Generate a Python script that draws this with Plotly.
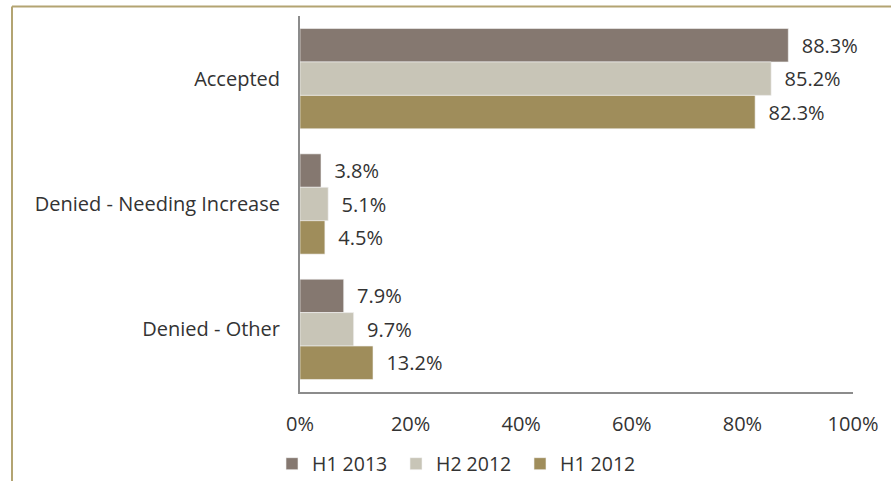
import plotly.graph_objects as go

# Outcome categories and series values (percent)
categories = ["Accepted", "Denied - Needing Increase", "Denied - Other"]
series_names = ["H1 2013", "H2 2012", "H1 2012"]
h1_2013 = [88.3, 3.8, 7.9]
h2_2012 = [85.2, 5.1, 9.7]
h1_2012 = [82.3, 4.5, 13.2]
x_ticks = [0, 20, 40, 60, 80, 100]
x_tick_text = ["0%", "20%", "40%", "60%", "80%", "100%"]

series_values = [h1_2013, h2_2012, h1_2012]
colors = ["#857870", "#c8c5b7", "#9f8d5b"]

W, H = 891, 481
ML, MR, MT, MB = 300, 38, 16, 89
PW, PH = W - ML - MR, H - MT - MB

def px_x(px):
    return (px - ML) / PW

def px_y(py):
    return (H - MB - py) / PH

fig = go.Figure()
for name, vals, col in zip(series_names, series_values, colors):
    fig.add_trace(go.Bar(
        y=categories,
        x=vals,
        name=name,
        orientation="h",
        marker=dict(color=col, line=dict(color="#f4f4f4", width=0.6)),
        text=vals,
        texttemplate="\u00a0\u00a0%{x:.1f}%",
        textposition="outside",
        constraintext="none",
        cliponaxis=False,
        textfont=dict(family="Open Sans", size=20, color="#333333"),
    ))

# Outer frame lines of the chart area
frame = "#b3a472"
fig.add_shape(type="line", xref="paper", yref="paper",
              x0=px_x(12), x1=px_x(W + 5), y0=px_y(6.5), y1=px_y(6.5),
              line=dict(color=frame, width=2))
fig.add_shape(type="line", xref="paper", yref="paper",
              x0=px_x(12), x1=px_x(12), y0=px_y(6.5), y1=px_y(H + 5),
              line=dict(color=frame, width=2))

fig.update_layout(
    width=W, height=H,
    margin=dict(l=ML, r=MR, t=MT, b=MB, pad=0, autoexpand=False),
    paper_bgcolor="white", plot_bgcolor="white",
    barmode="group", bargap=0.2, bargroupgap=0,
    font=dict(family="Open Sans", size=20, color="#333333"),
    showlegend=True,
    legend=dict(orientation="h", x=px_x(272), xanchor="left",
                y=px_y(464), yanchor="middle",
                font=dict(family="Open Sans", size=19.5, color="#333333"),
                entrywidth=79, traceorder="normal",
                bgcolor="rgba(0,0,0,0)"),
    xaxis=dict(range=[0, 100], tickvals=x_ticks, ticktext=x_tick_text,
               showgrid=False, zeroline=False,
               showline=True, linecolor="#8c8c8c", linewidth=2,
               ticks="", ticklabelstandoff=13,
               tickfont=dict(family="Open Sans", size=20, color="#333333")),
    yaxis=dict(autorange="reversed", showgrid=False, zeroline=False,
               showline=True, linecolor="#8c8c8c", linewidth=2,
               ticks="", ticklabelstandoff=14,
               tickfont=dict(family="Open Sans", size=20, color="#333333")),
)

fig.write_html("out.html")
